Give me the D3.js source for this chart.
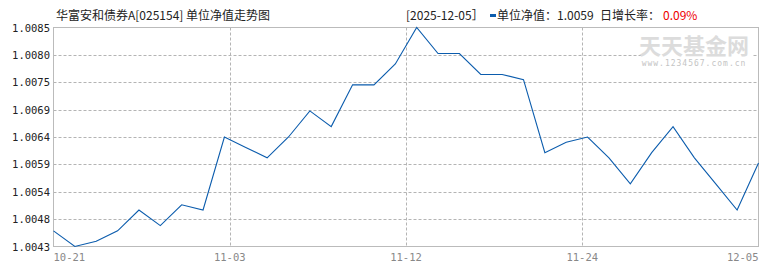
<!DOCTYPE html>
<html>
<head>
<meta charset="utf-8">
<script src="https://cdn.jsdelivr.net/npm/d3@7"></script>
<style>
  body { margin: 0; background: #fff; }
  text { font-family: "DejaVu Sans Mono", monospace; }
  .cn { font-family: "Noto Sans CJK SC", sans-serif; }
</style>
</head>
<body>
<svg id="chart" width="770" height="270"></svg>
<script>
// trading days 10-21 .. 12-05
var dates = ["10-21","10-22","10-23","10-24","10-27","10-28","10-29","10-30","10-31",
  "11-03","11-04","11-05","11-06","11-07","11-10","11-11","11-12","11-13","11-14",
  "11-17","11-18","11-19","11-20","11-21","11-24","11-25","11-26","11-27","11-28",
  "12-01","12-02","12-03","12-04","12-05"];
var navs = [1.0046,1.0043,1.0044,1.0046,1.0050,1.0047,1.0051,1.0050,1.0064,
  1.0062,1.0060,1.0064,1.0069,1.0066,1.0074,1.0074,1.0078,1.0085,1.0080,
  1.0080,1.0076,1.0076,1.0075,1.0061,1.0063,1.0064,1.0060,1.0055,1.0061,
  1.0066,1.0060,1.0055,1.0050,1.0059];
var yTickLabels = ["1.0043","1.0048","1.0054","1.0059","1.0064","1.0069","1.0075","1.0080","1.0085"];
var xTickLabels = ["10-21","11-03","11-12","11-24","12-05"];

var title = "华富安和债券A[025154] 单位净值走势图";
var lastDate = "2025-12-05";
var lastNav = "1.0059";
var lastChange = "0.09%";

// plot box (window.top is reserved, so use other names)
var pLeft = 53.5, pRight = 758.5, pTop = 27.5, pBottom = 246.5;
var svg = d3.select("#chart");

var x = d3.scaleLinear().domain([0, navs.length - 1]).range([pLeft, pRight]);
var yMin = d3.min(navs), yMax = d3.max(navs);
var y = d3.scaleLinear().domain([yMin, yMax]).range([pBottom, pTop]);

var yTickVals = yTickLabels.map(function(d, i) {
  return yMin + i * (yMax - yMin) / (yTickLabels.length - 1);
});
var xTickVals = xTickLabels.map(function(d, i) {
  return i * (navs.length - 1) / (xTickLabels.length - 1);
});

// horizontal grid
svg.append("g").selectAll("line")
  .data(yTickVals.slice(1, -1))
  .enter().append("line")
  .attr("x1", pLeft).attr("x2", pRight)
  .attr("y1", function(d) { return Math.round(y(d)) + 0.5; })
  .attr("y2", function(d) { return Math.round(y(d)) + 0.5; })
  .attr("stroke", "#b4b4b4").attr("stroke-dasharray", "3,2");

// vertical grid
svg.append("g").selectAll("line")
  .data(xTickVals.slice(1, -1))
  .enter().append("line")
  .attr("x1", function(d) { return Math.round(x(d)) + 0.5; })
  .attr("x2", function(d) { return Math.round(x(d)) + 0.5; })
  .attr("y1", pTop).attr("y2", pBottom)
  .attr("stroke", "#b4b4b4").attr("stroke-dasharray", "3,2");

// watermark
var wm = svg.append("g");
wm.append("rect").attr("x", 641).attr("y", 33).attr("width", 112).attr("height", 36).attr("fill", "#fff");
wm.append("text").attr("class", "cn").attr("x", 694).attr("y", 54)
  .attr("text-anchor", "middle").attr("font-size", 22).attr("font-weight", "bold")
  .attr("fill", "#dcdcdc")
  .text("天天基金网");
wm.append("text").attr("x", 694).attr("y", 66)
  .attr("text-anchor", "middle").attr("font-size", 8)
  .attr("fill", "#c4c4c4").attr("letter-spacing", 1)
  .text("www.1234567.com.cn");

// frame
svg.append("rect")
  .attr("x", pLeft).attr("y", pTop)
  .attr("width", pRight - pLeft).attr("height", pBottom - pTop)
  .attr("fill", "none").attr("stroke", "#bbb");

// nav line
var line = d3.line()
  .x(function(d, i) { return x(i); })
  .y(function(d) { return y(d); });
svg.append("path")
  .datum(navs)
  .attr("d", line)
  .attr("fill", "none")
  .attr("stroke", "#0b5cad")
  .attr("stroke-width", 1.1);

// y labels
svg.append("g").selectAll("text")
  .data(yTickVals)
  .enter().append("text")
  .attr("x", 50)
  .attr("y", function(d) { return y(d) + 4; })
  .attr("text-anchor", "end")
  .attr("font-size", 10.5)
  .attr("fill", "#222")
  .text(function(d, i) { return yTickLabels[i]; });

// x labels
svg.append("g").selectAll("text")
  .data(xTickVals)
  .enter().append("text")
  .attr("x", function(d) { return x(d); })
  .attr("y", 261)
  .attr("text-anchor", function(d, i) {
    return i === 0 ? "start" : (i === xTickVals.length - 1 ? "end" : "middle");
  })
  .attr("font-size", 10.5)
  .attr("fill", "#888")
  .text(function(d, i) { return xTickLabels[i]; });

// title
svg.append("text").attr("class", "cn")
  .attr("x", 56).attr("y", 20)
  .attr("font-size", 12).attr("fill", "#222")
  .text(title);

// header info
svg.append("text").attr("class", "cn")
  .attr("x", 406).attr("y", 20)
  .attr("font-size", 12).attr("fill", "#222")
  .text("[" + lastDate + "］");
svg.append("rect").attr("x", 490).attr("y", 14).attr("width", 6).attr("height", 3).attr("fill", "#0b5cad");
svg.append("text").attr("class", "cn")
  .attr("x", 497).attr("y", 20)
  .attr("font-size", 12).attr("fill", "#222")
  .text("单位净值：" + lastNav);
var chg = svg.append("text").attr("class", "cn")
  .attr("x", 600).attr("y", 20)
  .attr("font-size", 12).attr("fill", "#222");
chg.append("tspan").text("日增长率：");
chg.append("tspan").attr("x", 663).attr("fill", "#e00").text(lastChange);
</script>
</body>
</html>
